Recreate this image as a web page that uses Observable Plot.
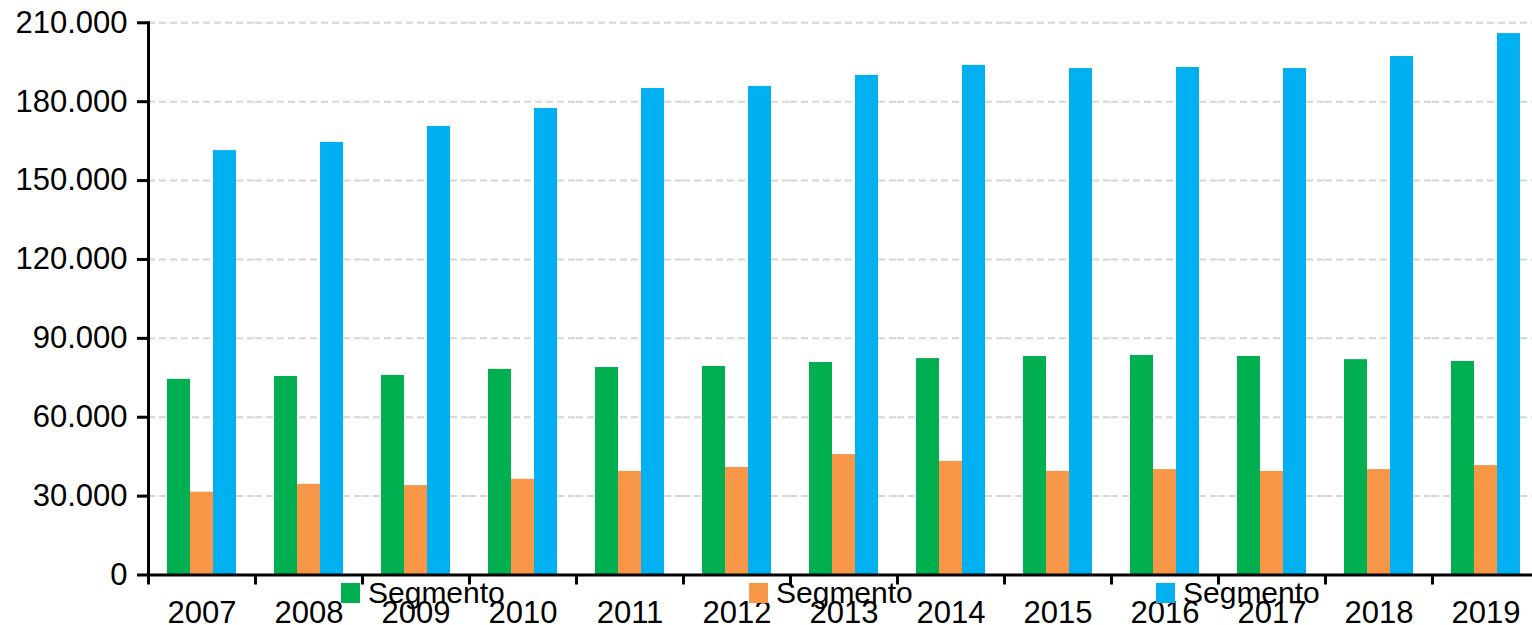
<!DOCTYPE html>
<html>
<head>
<meta charset="utf-8">
<script src="https://cdn.jsdelivr.net/npm/d3@7"></script>
<script src="https://cdn.jsdelivr.net/npm/@observablehq/plot@0.6"></script>
<style>
html, body { margin: 0; padding: 0; background: #fff; overflow: hidden; }
#wrap { position: relative; width: 1532px; height: 625px; font-family: "Liberation Sans", Arial, sans-serif; }
#legend { position: absolute; left: 341px; top: 583px; height: 20px; }
.item { position: absolute; top: 0; display: flex; align-items: center; height: 20px; white-space: nowrap; }
.sw { width: 19px; height: 20px; margin-right: 8px; flex: none; }
.lab { font-size: 30px; color: #000; line-height: normal; }
</style>
</head>
<body>
<div id="wrap"><div id="legend"></div></div>
<script>
const years = ["2007","2008","2009","2010","2011","2012","2013","2014","2015","2016","2017","2018","2019"];
const seriesKeys = ["s1", "s2", "s3"];
const seriesLabels = ["Segmento", "Segmento", "Segmento"];
const seriesColors = ["#00B050", "#F79646", "#00B0F0"];
const greenValues  = [74400, 75500, 75900, 78200, 78900, 79300, 80800, 82300, 83100, 83500, 83100, 81900, 81200];
const orangeValues = [31500, 34500, 34000, 36400, 39400, 40900, 45800, 43200, 39400, 40100, 39400, 40100, 41600];
const blueValues   = [161400, 164500, 170600, 177400, 185000, 185800, 190000, 193800, 192600, 193000, 192600, 197200, 205900];
const yTicks = [0, 30000, 60000, 90000, 120000, 150000, 180000, 210000];
const legendOffsets = [0, 408, 815];

const seriesValues = [greenValues, orangeValues, blueValues];
const table = [];
years.forEach((yr, i) => {
  seriesKeys.forEach((k, j) => table.push({year: yr, series: k, value: seriesValues[j][i]}));
});

const W = 1532, H = 625, mL = 148, mR = -7;
const step = (W - mL - mR) / years.length;
const fmt = d => d3.format(",")(d).replace(/,/g, ".");

const chart = Plot.plot({
  width: W,
  height: H,
  marginLeft: mL,
  marginRight: mR,
  marginTop: 22.3,
  marginBottom: 50.5,
  style: {fontFamily: "'Liberation Sans', Arial, sans-serif", fontSize: "30px", color: "#000", background: "#fff", overflow: "hidden"},
  fx: {domain: years, padding: 0, axis: null, label: null},
  x: {domain: seriesKeys, paddingInner: 0, paddingOuter: 0.73, axis: null, label: null},
  y: {domain: [0, 210000], axis: null, label: null},
  color: {domain: seriesKeys, range: seriesColors},
  marks: [
    Plot.gridY(yTicks, {stroke: "#d6d6d6", strokeOpacity: 1, strokeWidth: 2, strokeDasharray: "7,4"}),
    Plot.barY(table, {fx: "year", x: "series", y: "value", fill: "series"}),
    Plot.ruleY([0], {stroke: "#000", strokeWidth: 3}),
    Plot.frame({anchor: "left", facetAnchor: "left", stroke: "#000", strokeWidth: 3}),
    Plot.axisY(yTicks, {label: null, tickFormat: fmt, tickSize: 11, tickPadding: 10, strokeWidth: 3, stroke: "#000", fontSize: 31}),
    Plot.axisFx({anchor: "bottom", label: null, tickSize: 10, strokeWidth: 3, stroke: "#000", tickFormat: () => "", dx: -step / 2}),
    Plot.axisFx({anchor: "bottom", label: null, tickSize: 0, tickPadding: 26, fontSize: 31})
  ]
});
document.getElementById("wrap").prepend(chart);

const legend = d3.select("#legend");
seriesKeys.forEach((k, i) => {
  const item = legend.append("div").attr("class", "item").style("left", legendOffsets[i] + "px");
  item.append("div").attr("class", "sw").style("background", seriesColors[i]);
  item.append("span").attr("class", "lab").text(seriesLabels[i]);
});
</script>
</body>
</html>
